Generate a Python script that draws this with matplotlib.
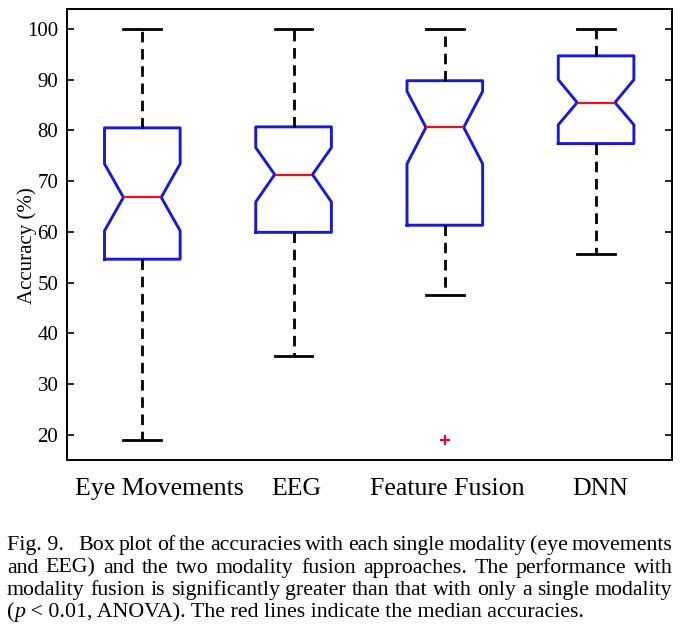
import matplotlib
matplotlib.use("Agg")
import matplotlib.pyplot as plt
from matplotlib.transforms import IdentityTransform, ScaledTranslation, blended_transform_factory

# values
labels = ["Eye Movements", "EEG", "Feature Fusion", "DNN"]
medians = [66.8, 71.3, 80.6, 85.5]
q1 = [54.6, 59.9, 61.3, 77.4]
q3 = [80.5, 80.7, 89.8, 94.7]
whis_lo = [19.0, 35.6, 47.6, 55.6]
whis_hi = [100, 100, 100, 100]
notch_lo = [60.2, 65.9, 73.4, 81.1]
notch_hi = [73.4, 76.6, 87.7, 90.0]
outliers = [[], [], [19.0], []]

caption = [
    ["Fig. 9.", "Box", "plot", "of", "the", "accuracies", "with", "each", "single",
     "modality", "(eye", "movements"],
    ["and", "EEG)", "and", "the", "two", "modality", "fusion", "approaches.", "The",
     "performance", "with"],
    ["modality", "fusion", "is", "significantly", "greater", "than", "that", "with",
     "only", "a", "single", "modality"],
]
last_line = [("(", "normal"), ("p", "italic"),
             (" < 0.01, ANOVA). The red lines indicate the median accuracies.", "normal")]

plt.rcParams['font.family'] = ['Liberation Serif', 'DejaVu Serif']

fig = plt.figure(figsize=(6.8, 6.29), dpi=100)
ax = fig.add_axes([66.7 / 680, 1 - 460 / 629, 605 / 680, (460 - 8.7) / 629])

positions = [1, 2, 3, 4]
stats = []
for i in range(len(labels)):
    stats.append(dict(med=medians[i], q1=q1[i], q3=q3[i], whislo=whis_lo[i],
                      whishi=whis_hi[i], cilo=notch_lo[i], cihi=notch_hi[i],
                      fliers=outliers[i]))

ax.bxp(stats, positions=positions, widths=0.5, shownotches=True,
       boxprops=dict(color='#1a1ad0', linewidth=2.1),
       whiskerprops=dict(color='k', linestyle=(0, (3.8, 2.4)), linewidth=2),
       capprops=dict(color='k', linewidth=2),
       medianprops=dict(color='#e81020', linewidth=1.6),
       flierprops=dict(marker='+', markeredgecolor='#e8003c', markersize=7,
                       markeredgewidth=1.6))

ax.set_xlim(0.5, 4.5)
ax.set_ylim(15, 104)
ax.set_xticks([])
ax.set_yticks(range(20, 101, 10))
ax.tick_params(axis='y', direction='in', right=True, length=5, width=1.2,
               labelsize=15, pad=6)
ax.set_ylabel("Accuracy (%)", fontsize=15)
ax.yaxis.set_label_coords(-0.049, 0.474)
for s in ax.spines.values():
    s.set_linewidth(1.4)

# group labels as text, nudged (in px) to where the original has them
trans = blended_transform_factory(ax.transData, ax.transAxes)
shifts = [17, 3, 2, 4]
for pos, lab, dx in zip(positions, labels, shifts):
    ax.text(pos, -0.0776, lab, fontsize=18.6, ha='center', va='baseline',
            transform=trans + ScaledTranslation(dx / 100, 0, fig.dpi_scale_trans))

# justified caption under the plot
left, right = 7, 672.5
baselines = [629 - 550, 629 - 572.7, 629 - 595, 629 - 617]
fig.canvas.draw()
renderer = fig.canvas.get_renderer()

# the third line is set with plain spaces, so fit the size to it
probe = fig.text(0, 0, " ".join(caption[2]), fontsize=13.4,
                 transform=IdentityTransform())
fsize = 13.4 * (right - left) / probe.get_window_extent(renderer).width
probe.remove()

for k, words in enumerate(caption):
    texts = [fig.text(0, baselines[k], w, fontsize=fsize, va='baseline',
                      transform=IdentityTransform()) for w in words]
    widths = [t.get_window_extent(renderer).width for t in texts]
    extra = 10 if k == 0 else 0
    gap = (right - left - sum(widths) - extra) / (len(words) - 1)
    x = left
    for j, t in enumerate(texts):
        t.set_x(x)
        x += widths[j] + gap
        if k == 0 and j == 0:
            x += extra

x = left
for s, style in last_line:
    t = fig.text(x, baselines[3], s, fontsize=fsize, va='baseline', style=style,
                 transform=IdentityTransform())
    x += t.get_window_extent(renderer).width

fig.savefig("out.png", dpi=100)
